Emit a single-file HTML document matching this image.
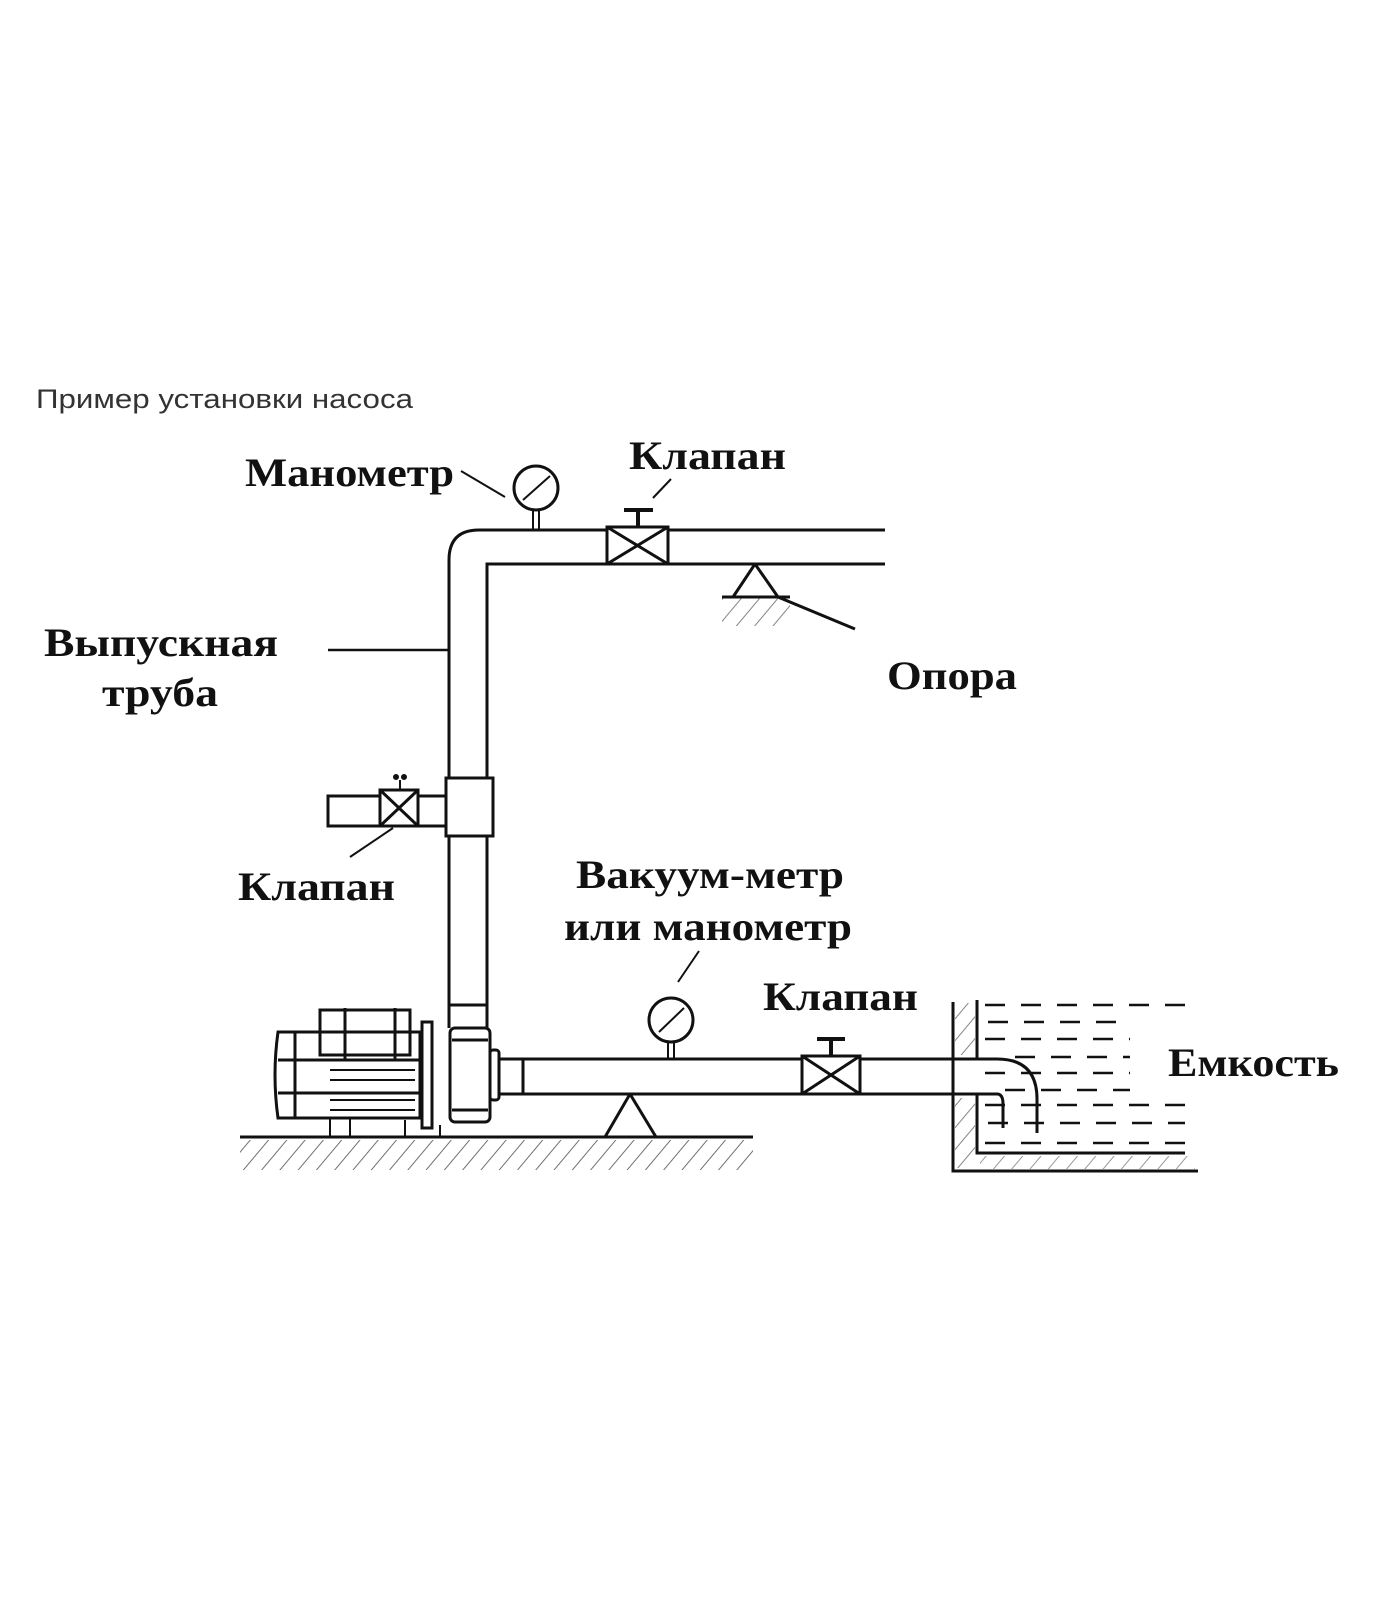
<!DOCTYPE html>
<html><head><meta charset="utf-8"><style>
html,body{margin:0;padding:0;background:#fff;}
svg{display:block}
.l{font-family:"Liberation Serif",serif;font-weight:bold;font-size:40px;fill:#111}
</style></head><body>
<svg width="1400" height="1600" viewBox="0 0 1400 1600" xmlns="http://www.w3.org/2000/svg">
<defs>
<pattern id="h" width="14" height="14" patternUnits="userSpaceOnUse" patternTransform="rotate(40)">
<line x1="0" y1="0" x2="0" y2="14" stroke="#333" stroke-width="2"/>
</pattern>
</defs>
<text x="36" y="408" font-family="Liberation Sans, sans-serif" font-size="27" fill="#333" textLength="377" lengthAdjust="spacingAndGlyphs">Пример установки насоса</text>
<g fill="none" stroke="#111" stroke-width="3">
<path d="M449 1028 L449 560 Q449 530 479 530 L885 530"/>
<path d="M487 1028 L487 564 L885 564"/>
<rect x="607" y="527" width="61" height="37" fill="#fff"/>
<path d="M607 527 L668 564 M668 527 L607 564"/>
<path d="M638 527 L638 510 M624 510 L653 510" stroke-width="4"/>
<circle cx="536" cy="488" r="22" fill="#fff"/>
<path d="M523 500 L550 476" stroke-width="2"/>
<path d="M533 510 L533 530 M539 510 L539 530" stroke-width="2"/>
<path d="M461 471 L505 497 M671 479 L653 498" stroke-width="2"/>
<path d="M755 564 L733 597 M755 564 L778 597 L855 629 M722 597 L790 597"/>
<rect x="722" y="598" width="68" height="28" fill="url(#h)" stroke="none" opacity=".6"/>
<path d="M328 650 L449 650" stroke-width="2.5"/>
<rect x="446" y="778" width="47" height="58" fill="#fff"/>
<path d="M446 796 L328 796 L328 826 L446 826"/>
<rect x="380" y="790" width="38" height="36" fill="#fff"/>
<path d="M380 790 L418 826 M418 790 L380 826"/>
<path d="M400 790 L400 780" stroke-width="2"/>
<circle cx="396" cy="777" r="1.5" fill="#111"/><circle cx="404" cy="777" r="1.5" fill="#111"/>
<path d="M393 828 L350 857" stroke-width="2"/>
<path d="M449 1005 L487 1005"/>
<rect x="450" y="1028" width="40" height="94" rx="5" fill="#fff"/>
<path d="M452 1040 L488 1040 M452 1110 L488 1110"/>
<rect x="490" y="1050" width="9" height="50" rx="3"/>
<path d="M278 1032 Q272 1075 278 1118 L420 1118 L420 1032 Z"/>
<path d="M278 1060 L420 1060 M278 1093 L420 1093 M295 1032 L295 1118"/>
<rect x="320" y="1010" width="90" height="45"/>
<path d="M345 1008 L345 1060 M395 1008 L395 1060" />
<path d="M330 1070 L415 1070 M330 1080 L415 1080 M330 1100 L415 1100 M330 1110 L415 1110" stroke-width="2"/>
<rect x="422" y="1022" width="10" height="106"/>
<path d="M330 1118 L330 1137 M350 1118 L350 1137 M405 1120 L405 1137 M440 1125 L440 1137" stroke-width="2"/>
<path d="M499 1059 L997 1059 Q1037 1059 1037 1099 L1037 1133"/>
<path d="M499 1094 L997 1094 Q1003 1094 1003 1104 L1003 1128"/>
<path d="M523 1059 L523 1094"/>
<circle cx="671" cy="1020" r="22" fill="#fff"/>
<path d="M659 1032 L684 1008" stroke-width="2"/>
<path d="M668 1042 L668 1059 M674 1042 L674 1059" stroke-width="2"/>
<path d="M699 951 L678 982" stroke-width="2"/>
<path d="M630 1094 L605 1137 M630 1094 L656 1137"/>
<path d="M240 1137 L753 1137"/>
<rect x="240" y="1140" width="513" height="30" fill="url(#h)" stroke="none" opacity=".7"/>
<rect x="802" y="1056" width="58" height="38" fill="#fff"/>
<path d="M802 1056 L860 1094 M860 1056 L802 1094"/>
<path d="M831 1056 L831 1040 M817 1039 L845 1039" stroke-width="4"/>
<path d="M953 1002 L953 1171 L1198 1171"/>
<path d="M977 1000 L977 1059 M977 1094 L977 1153 L1185 1153"/>
<rect x="955" y="1003" width="20" height="52" fill="url(#h)" stroke="none" opacity=".6"/>
<rect x="955" y="1098" width="20" height="70" fill="url(#h)" stroke="none" opacity=".6"/>
<rect x="980" y="1156" width="215" height="13" fill="url(#h)" stroke="none" opacity=".5"/>
<g stroke-width="2.5" stroke-dasharray="20 16">
<path d="M985 1005 L1185 1005 M988 1022 L1130 1022 M985 1039 L1130 1039 M1015 1057 L1130 1057 M985 1073 L1130 1073 M1005 1090 L1130 1090 M985 1105 L1185 1105 M988 1123 L1185 1123 M985 1143 L1185 1143"/>
</g>
</g>
<text class="l" x="245" y="486" textLength="209" lengthAdjust="spacingAndGlyphs">Манометр</text>
<text class="l" x="629" y="469" textLength="157" lengthAdjust="spacingAndGlyphs">Клапан</text>
<text class="l" x="44" y="656" textLength="234" lengthAdjust="spacingAndGlyphs">Выпускная</text>
<text class="l" x="102" y="706" textLength="116" lengthAdjust="spacingAndGlyphs">труба</text>
<text class="l" x="887" y="689" textLength="130" lengthAdjust="spacingAndGlyphs">Опора</text>
<text class="l" x="238" y="900" textLength="157" lengthAdjust="spacingAndGlyphs">Клапан</text>
<text class="l" x="576" y="888" textLength="268" lengthAdjust="spacingAndGlyphs">Вакуум-метр</text>
<text class="l" x="564" y="940" textLength="288" lengthAdjust="spacingAndGlyphs">или манометр</text>
<text class="l" x="763" y="1010" textLength="155" lengthAdjust="spacingAndGlyphs">Клапан</text>
<text class="l" x="1168" y="1076" textLength="171" lengthAdjust="spacingAndGlyphs">Емкость</text>
</svg>
</body></html>
